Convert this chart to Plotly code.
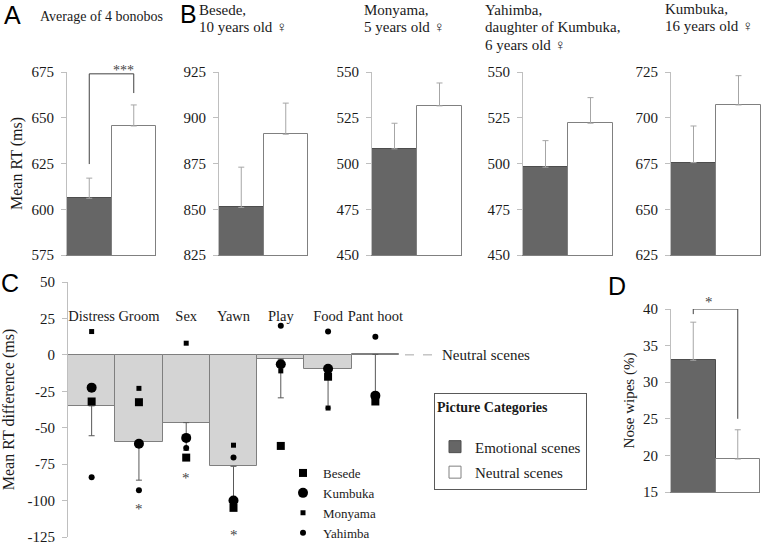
import plotly.graph_objects as go

W, H = 762, 547
SERIF = "Liberation Serif, Times New Roman, Times, serif"
SANS = "Liberation Sans, Arial, Helvetica, sans-serif"
TXT = "#1a1a1a"

# ---------------- data ----------------
conditions = ["Emotional scenes", "Neutral scenes"]

# Panel A: average of 4 bonobos
avg_means = [606.0, 645.5]
avg_sem = [11.0, 11.5]
avg_ticks = [575, 600, 625, 650, 675]

# Panel B: individuals
besede_means = [851.0, 891.0]
besede_sem = [22.0, 17.0]
besede_ticks = [825, 850, 875, 900, 925]

monyama_means = [508.0, 531.5]
monyama_sem = [14.0, 12.5]
monyama_ticks = [450, 475, 500, 525, 550]

yahimba_means = [498.0, 522.0]
yahimba_sem = [14.5, 14.0]
yahimba_ticks = [450, 475, 500, 525, 550]

kumbuka_means = [675.5, 707.0]
kumbuka_sem = [20.0, 16.0]
kumbuka_ticks = [625, 650, 675, 700, 725]

# Panel C: RT difference per picture category
categories = ["Distress", "Groom", "Sex", "Yawn", "Play", "Food", "Pant hoot"]
diff_means = [-35.0, -60.0, -46.5, -76.5, -3.0, -10.0, 0.3]
diff_sem = [20.5, 26.0, 19.0, 24.0, 26.5, 26.5, 29.0]
bonobos = ["Besede", "Kumbuka", "Monyama", "Yahimba"]
besede_diff = [-32.0, -32.5, -70.5, -105.0, -62.5, -15.0, -32.0]
kumbuka_diff = [-22.5, -61.0, -57.0, -100.0, -6.5, -9.5, -28.0]
monyama_diff = [16.0, -23.0, 8.0, -62.0, -11.0, -36.5, -30.5]
yahimba_diff = [-84.0, -93.0, -64.0, -70.5, 20.0, 16.0, 12.5]
diff_ticks = [50, 25, 0, -25, -50, -75, -100, -125]
diff_ticktext = ["50", "25", "0", "-25", "-50", "-75", "-100", "-125"]
sig_categories = ["Groom", "Sex", "Yawn"]
sig_y = [-105.5, -84.5, -123.5]

# Panel D: nose wipes
nose_wipes = [33.0, 19.5]
nose_sem = [5.2, 4.0]
nose_ticks = [15, 20, 25, 30, 35, 40]


def fx(px):
    return px / W


def fy(px):
    return 1 - px / H


fig = go.Figure()

fills = ["#666666", "#ffffff"]
edges = ["#4d4d4d", "#808080"]

bar_panels = [
    # axis suffix, means, sem, ticks, x px domain, y px domain, title
    ("", avg_means, avg_sem, avg_ticks, (67, 156), (72, 255), "Mean RT (ms)"),
    ("2", besede_means, besede_sem, besede_ticks, (219, 308), (72, 255), None),
    ("3", monyama_means, monyama_sem, monyama_ticks, (372, 462), (72, 255), None),
    ("4", yahimba_means, yahimba_sem, yahimba_ticks, (523, 613), (72, 255), None),
    ("5", kumbuka_means, kumbuka_sem, kumbuka_ticks, (671, 761), (72, 255), None),
    ("7", nose_wipes, nose_sem, nose_ticks, (671, 760), (309, 492), "Nose wipes (%)"),
]

yaxis_common = dict(
    showline=True, linecolor="#bfbfbf", linewidth=1, ticks="outside", ticklen=5,
    tickcolor="#bfbfbf", showgrid=False, zeroline=False, automargin=False,
    tickfont=dict(family=SERIF, size=15, color=TXT), ticklabelstandoff=4,
    ticklabeloverflow="allow",
)

layout_axes = {}
for k, (suf, means, sem, ticks, xd, yd, ytitle) in enumerate(bar_panels):
    for i, cond in enumerate(conditions):
        fig.add_trace(go.Bar(
            x=[cond], y=[means[i]], name=cond,
            xaxis="x" + suf, yaxis="y" + suf,
            marker=dict(color=fills[i], line=dict(color=edges[i], width=1)),
            error_y=dict(type="data", symmetric=False, array=[sem[i]], arrayminus=[0],
                         color="#a6a6a6", thickness=1, width=3),
            legend="legend2", legendgroup=cond, showlegend=(k == 0),
        ))
    layout_axes["xaxis" + suf] = dict(
        domain=[fx(xd[0]), fx(xd[1])], type="category", categoryarray=conditions,
        range=[-0.5, 1.5], showticklabels=False, ticks="", showgrid=False, zeroline=False,
        showline=True, linecolor="#808080", linewidth=1, anchor="y" + suf, automargin=False,
    )
    ya = dict(yaxis_common)
    ya.update(domain=[fy(yd[1]), fy(yd[0])], range=[ticks[0], ticks[-1]],
              tickvals=ticks, ticktext=[str(t) for t in ticks], anchor="x" + suf)
    if ytitle:
        ya["title"] = dict(text=ytitle, font=dict(family=SERIF, size=16 if suf == "" else 15, color=TXT),
                           standoff=4)
    layout_axes["yaxis" + suf] = ya

# significance brackets (A and D)
fig.add_trace(go.Scatter(x=[conditions[0], conditions[0], conditions[1], conditions[1]],
                         y=[624.7, 674.0, 674.0, 663.5], mode="lines",
                         line=dict(color="#404040", width=1), xaxis="x", yaxis="y",
                         showlegend=False, cliponaxis=False, hoverinfo="skip"))
fig.add_trace(go.Scatter(x=[conditions[0], conditions[0], conditions[1], conditions[1]],
                         y=[39.3, 40.0, 40.0, 25.0], mode="lines",
                         line=dict(color="#404040", width=1), xaxis="x7", yaxis="y7",
                         showlegend=False, cliponaxis=False, hoverinfo="skip"))

# Panel C bars
fig.add_trace(go.Bar(
    x=categories, y=diff_means, xaxis="x6", yaxis="y6", name="Mean",
    marker=dict(color="#d4d4d4", line=dict(color="#7f7f7f", width=1)),
    error_y=dict(type="data", symmetric=False, array=[0] * len(categories), arrayminus=diff_sem,
                 color="#595959", thickness=1, width=3),
    showlegend=False,
))
ind_values = [besede_diff, kumbuka_diff, monyama_diff, yahimba_diff]
ind_symbols = ["square", "circle", "square", "circle"]
ind_sizes = [8, 10, 5, 6]
for name, vals, sym, sz in zip(bonobos, ind_values, ind_symbols, ind_sizes):
    fig.add_trace(go.Scatter(
        x=categories, y=vals, mode="markers", name=name, xaxis="x6", yaxis="y6",
        marker=dict(symbol=sym, size=sz, color="#000000"), legend="legend",
        cliponaxis=False,
    ))

layout_axes["xaxis6"] = dict(
    domain=[fx(68), fx(399)], type="category", categoryarray=categories,
    range=[-0.5, 6.5], anchor="free", position=fy(305), side="bottom",
    showline=False, ticks="", showgrid=False, zeroline=False, tickangle=0, automargin=False,
    tickfont=dict(family=SERIF, size=14.5, color=TXT),
)
yc = dict(yaxis_common)
yc.update(domain=[fy(537), fy(282)], range=[-125, 50], tickvals=diff_ticks,
          ticktext=diff_ticktext, anchor="x6",
          title=dict(text="Mean RT difference (ms)", font=dict(family=SERIF, size=16, color=TXT),
                     standoff=8))
layout_axes["yaxis6"] = yc

annotations = []
# panel letters
for letter, px, py in [("A", 12.5, 15), ("B", 188, 14), ("C", 10, 283), ("D", 617, 286)]:
    annotations.append(dict(text=letter, x=fx(px), y=fy(py), xref="paper", yref="paper",
                            xanchor="center", yanchor="middle", showarrow=False,
                            font=dict(family=SANS, size=25, color="#000000")))
# panel titles
title_lines = [
    ("Average of 4 bonobos", 38, 17, 14),
    ("Besede,", 197, 10, 15), ("10 years old ♀", 197, 27, 15),
    ("Monyama,", 362, 10, 15), ("5 years old ♀", 362, 27, 15),
    ("Yahimba,", 483, 10, 15), ("daughter of Kumbuka,", 483, 27, 15), ("6 years old ♀", 483, 45, 15),
    ("Kumbuka,", 663, 9, 15), ("16 years old ♀", 663, 26, 15),
]
for txt, px, py, sz in title_lines:
    annotations.append(dict(text=txt, x=fx(px), y=fy(py), xref="paper", yref="paper",
                            xanchor="left", yanchor="middle", showarrow=False,
                            font=dict(family=SERIF, size=sz, color=TXT)))
# significance stars
annotations.append(dict(text="***", x=fx(111), y=fy(61), xref="paper", yref="paper",
                        showarrow=False, font=dict(family=SERIF, size=14, color="#444444")))
annotations.append(dict(text="*", x=fx(715), y=fy(302), xref="paper", yref="paper",
                        showarrow=False, font=dict(family=SERIF, size=15, color="#444444")))
for cat, yv in zip(sig_categories, sig_y):
    annotations.append(dict(text="*", x=cat, y=yv, xref="x6", yref="y6",
                            showarrow=False, font=dict(family=SERIF, size=15, color="#444444")))
annotations.append(dict(text="Neutral scenes", x=fx(440), y=0, xref="paper", yref="y6",
                        xanchor="left", yanchor="middle", showarrow=False,
                        font=dict(family=SERIF, size=15, color=TXT)))

shapes = [dict(type="line", xref="paper", yref="y6", x0=fx(405), x1=fx(433), y0=0, y1=0,
               line=dict(color="#a6a6a6", width=1, dash="dash"))]

fig.update_layout(
    template="none",
    width=W, height=H, margin=dict(l=0, r=0, t=0, b=0, autoexpand=False),
    paper_bgcolor="#ffffff", plot_bgcolor="#ffffff",
    font=dict(family=SERIF, color=TXT),
    barmode="overlay", bargap=0,
    annotations=annotations, shapes=shapes,
    legend=dict(x=fx(283), y=fy(503), xanchor="left", yanchor="middle",
                font=dict(family=SERIF, size=13, color=TXT), bgcolor="rgba(0,0,0,0)",
                itemwidth=30, tracegroupgap=0),
    legend2=dict(x=fx(434), y=fy(393), xanchor="left", yanchor="top",
                 bordercolor="#595959", borderwidth=1, bgcolor="#ffffff",
                 font=dict(family=SERIF, size=15, color=TXT), itemwidth=30,
                 tracegroupgap=3,
                 title=dict(text="<b>Picture Categories</b><br> ",
                            font=dict(family=SERIF, size=14, color=TXT))),
    **layout_axes,
)

fig.write_html("out.html", config={"displayModeBar": False},
               post_script="document.body.style.margin='0';document.body.style.overflow='hidden';")
